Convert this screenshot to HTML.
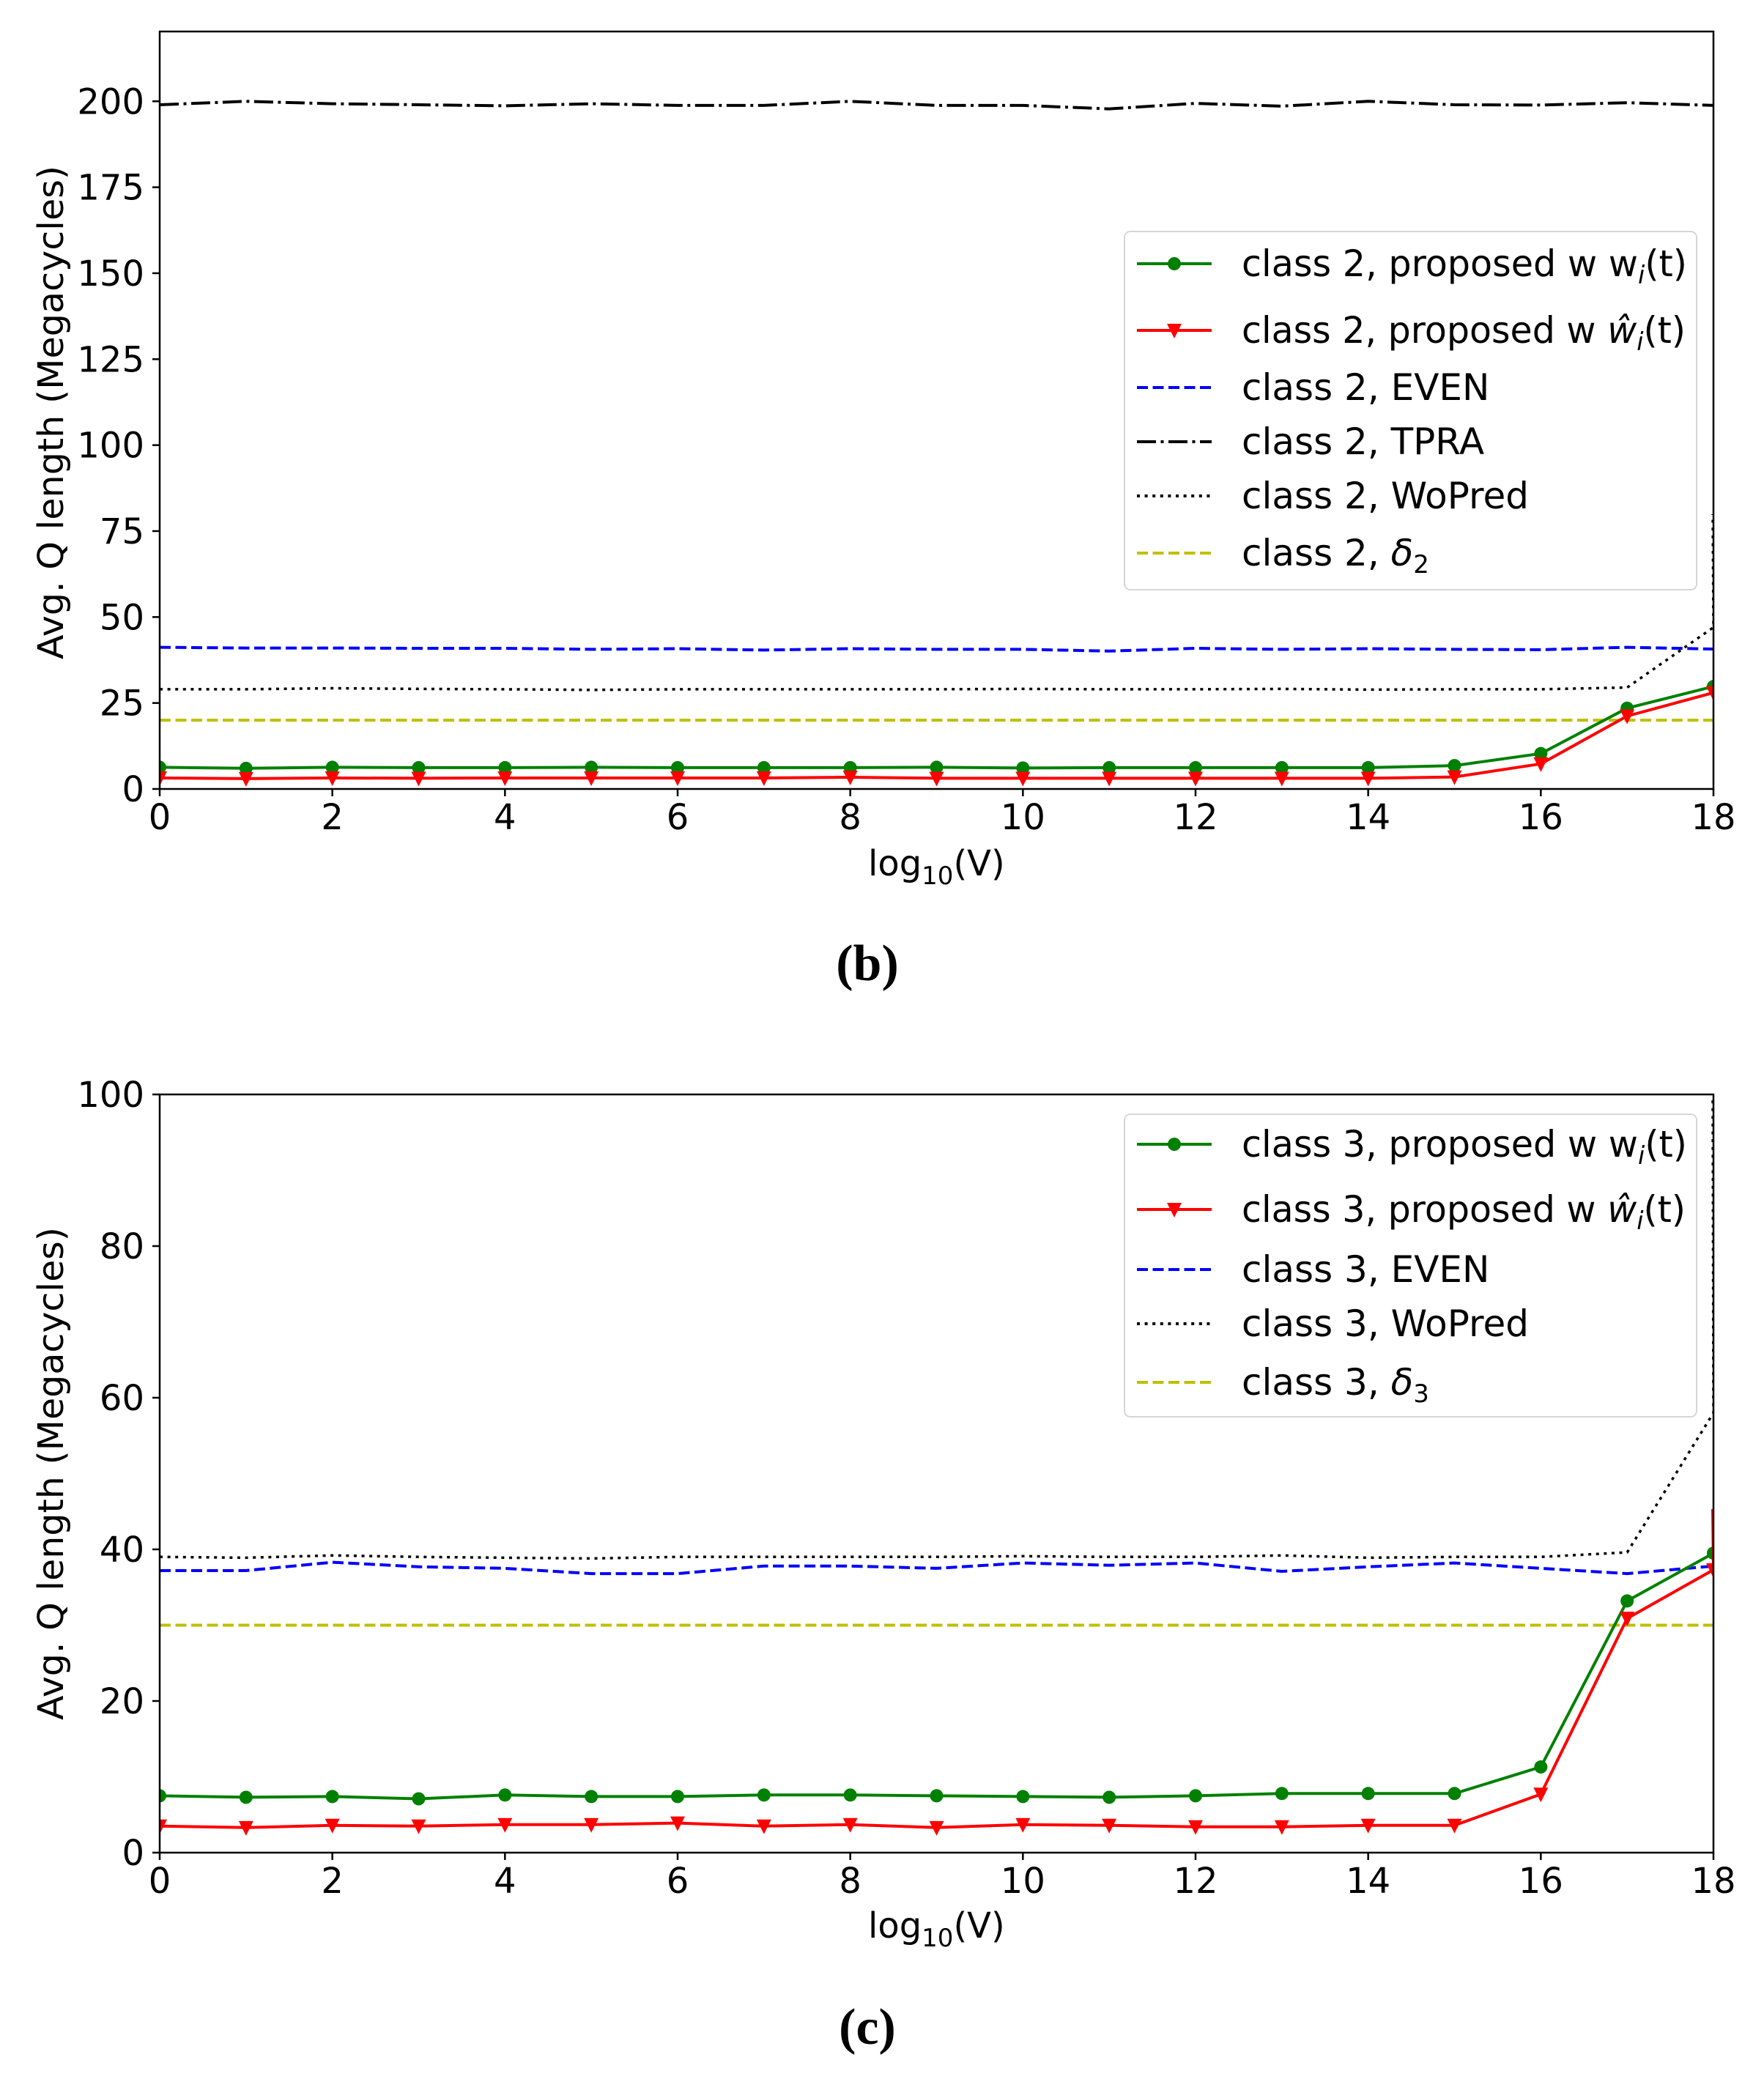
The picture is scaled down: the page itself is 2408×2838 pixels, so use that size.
<!DOCTYPE html>
<html><head><meta charset="utf-8"><style>
html,body{margin:0;padding:0;background:#fff;}
svg{display:block;}
text{font-family:"DejaVu Sans","Liberation Sans",sans-serif;fill:#000;}
</style></head><body>
<svg id="s" width="2408" height="2838" viewBox="0 0 2408 2838" xmlns="http://www.w3.org/2000/svg"></svg>
<script>
const S=document.getElementById('s');let h='';
const X0=218,X1=2339,xs=(X1-X0)/18;
function px(i){return X0+i*xs;}
function panel(top,bot,ymax,yticks,series,legend,lbox,ylabRange,xlabY,cap,capY){
  const ys=(bot-top)/ymax;const py=v=>bot-v*ys;
  h+=`<defs><clipPath id="c${top}"><rect x="${X0}" y="${top}" width="${X1-X0}" height="${bot-top}"/></clipPath></defs>`;
  h+=`<g clip-path="url(#c${top})">`;
  for(const s of series){
    let pts=s.d.map((v,i)=>px(i).toFixed(1)+','+py(v).toFixed(1));
    if(s.ext) pts.push(s.ext.map(e=>e).join(','));
    h+=`<polyline points="${pts.join(' ')}" fill="none" stroke="${s.c}" stroke-width="${s.w||4}" ${s.da?`stroke-dasharray="${s.da}"`:''} stroke-linejoin="round"/>`;
    if(s.m==='o') s.d.forEach((v,i)=>h+=`<circle cx="${px(i)}" cy="${py(v)}" r="9" fill="${s.c}"/>`);
    if(s.m==='v') s.d.forEach((v,i)=>{const x=px(i),y=py(v);h+=`<polygon points="${x-10},${y-9} ${x+10},${y-9} ${x},${y+11}" fill="${s.c}"/>`;});
  }
  h+=`</g>`;
  h+=`<rect x="${X0}" y="${top}" width="${X1-X0}" height="${bot-top}" fill="none" stroke="#000" stroke-width="2.5"/>`;
  for(let i=0;i<=18;i+=2){const x=px(i);h+=`<line x1="${x}" y1="${bot}" x2="${x}" y2="${bot+10}" stroke="#000" stroke-width="2.5"/><text x="${x}" y="${bot+55}" font-size="48" text-anchor="middle">${i}</text>`;}
  for(const t of yticks){const y=py(t);h+=`<line x1="${X0-10}" y1="${y}" x2="${X0}" y2="${y}" stroke="#000" stroke-width="2.5"/><text x="197" y="${y+17}" font-size="48" text-anchor="end">${t}</text>`;}
  const cy=(ylabRange[0]+ylabRange[1])/2;
  h+=`<text x="0" y="0" font-size="48" text-anchor="middle" textLength="${ylabRange[1]-ylabRange[0]}" lengthAdjust="spacingAndGlyphs" transform="translate(86 ${cy}) rotate(-90)">Avg. Q length (Megacycles)</text>`;
  h+=`<text x="1185" y="${xlabY}" font-size="48">log<tspan font-size="34" dy="12">10</tspan><tspan dy="-12">(V)</tspan></text>`;
  h+=`<text x="1184" y="${capY}" font-size="70" font-weight="bold" text-anchor="middle" style="font-family:'Liberation Serif',serif">(${cap})</text>`;
  h+=`<rect x="${lbox[0]}" y="${lbox[1]}" width="${lbox[2]-lbox[0]}" height="${lbox[3]-lbox[1]}" rx="8" fill="#fff" fill-opacity="0.85" stroke="#d6d6d6" stroke-width="2"/>`;
  for(const L of legend){
    const y=L.y;h+=`<line x1="1552" y1="${y}" x2="1654" y2="${y}" stroke="${L.c}" stroke-width="4" ${L.da?`stroke-dasharray="${L.da}"`:''}/>`;
    if(L.m==='o')h+=`<circle cx="1603" cy="${y}" r="9" fill="${L.c}"/>`;
    if(L.m==='v')h+=`<polygon points="1593,${y-9} 1613,${y-9} 1603,${y+11}" fill="${L.c}"/>`;
    h+=`<text x="1695" y="${y+17}" font-size="50"${L.tl?` textLength="${L.tl}" lengthAdjust="spacingAndGlyphs"`:''}>${L.t}</text>`;
  }
}
const dd='15,6.5',dot='4,6.6',dda='26,6.5,4,6.5';
const wi='w<tspan font-size="34" font-style="italic" dy="10">i</tspan><tspan dy="-10">(t)</tspan>';
const wh='<tspan font-style="italic">ŵ</tspan><tspan font-size="34" font-style="italic" dy="10">i</tspan><tspan dy="-10">(t)</tspan>';
panel(43,1077,220.3,[0,25,50,75,100,125,150,175,200],[
 {c:'#0000ff',da:dd,d:[41.2,41,41,40.9,40.9,40.6,40.8,40.4,40.8,40.6,40.6,40.1,40.9,40.6,40.8,40.6,40.5,41.2,40.7]},
 {c:'#000',da:dda,d:[199,200,199.3,199,198.7,199.3,198.8,198.8,200,198.8,198.8,197.8,199.4,198.6,200,199,198.9,199.6,198.8]},
 {c:'#000',da:dot,w:3.5,d:[29,29,29.3,29.1,29,28.8,29,29,29,29,29.1,29,29,29.1,28.9,29,29,29.5,47],ext:['2338,702']},
 {c:'#bfbf00',da:dd,d:Array(19).fill(20)},
 {c:'#008000',m:'o',d:[6.3,6,6.3,6.2,6.2,6.3,6.2,6.2,6.2,6.3,6.1,6.2,6.2,6.2,6.2,6.8,10.3,23.5,29.8]},
 {c:'#ff0000',m:'v',d:[3.2,3,3.2,3.1,3.2,3.2,3.2,3.2,3.4,3.1,3.1,3.1,3.1,3.1,3.1,3.5,7.3,21.2,28]},
],[
 {y:360,c:'#008000',m:'o',t:'class 2, proposed w '+wi,tl:608},
 {y:451,c:'#ff0000',m:'v',t:'class 2, proposed w '+wh,tl:606},
 {y:529,c:'#0000ff',da:dd,t:'class 2, EVEN'},
 {y:603,c:'#000',da:dda,t:'class 2, TPRA'},
 {y:677,c:'#000',da:dot,t:'class 2, WoPred'},
 {y:755,c:'#bfbf00',da:dd,t:'class 2, <tspan font-style="italic">δ</tspan><tspan font-size="34" dy="10">2</tspan>'},
],[1535,316,2316,805],[226,900],1195,'b',1338);
panel(1494,2529,100,[0,20,40,60,80,100],[
 {c:'#0000ff',da:dd,d:[37.2,37.2,38.3,37.7,37.5,36.8,36.8,37.8,37.8,37.5,38.2,37.9,38.2,37.1,37.7,38.2,37.5,36.8,37.8]},
 {c:'#000',da:dot,w:3.5,d:[39,38.9,39.2,39,38.9,38.8,39,39,39,39,39.1,39,39,39.2,38.9,39,39,39.6,58],ext:['2338,1500']},
 {c:'#bfbf00',da:dd,d:Array(19).fill(30)},
 {c:'#008000',m:'o',d:[7.5,7.3,7.4,7.1,7.6,7.4,7.4,7.6,7.6,7.5,7.4,7.3,7.5,7.8,7.8,7.8,11.3,33.2,39.5]},
 {c:'#ff0000',m:'v',d:[3.5,3.3,3.6,3.5,3.7,3.7,3.9,3.5,3.7,3.3,3.7,3.6,3.4,3.4,3.6,3.6,7.7,30.9,37.3],ext:['2338,2060']},
],[
 {y:1562,c:'#008000',m:'o',t:'class 3, proposed w '+wi,tl:608},
 {y:1651,c:'#ff0000',m:'v',t:'class 3, proposed w '+wh,tl:606},
 {y:1733,c:'#0000ff',da:dd,t:'class 3, EVEN'},
 {y:1807,c:'#000',da:dot,t:'class 3, WoPred'},
 {y:1887,c:'#bfbf00',da:dd,t:'class 3, <tspan font-style="italic">δ</tspan><tspan font-size="34" dy="10">3</tspan>'},
],[1535,1521,2316,1934],[1675,2348],2645,'c',2790);
S.innerHTML=h;
</script>
</body></html>
